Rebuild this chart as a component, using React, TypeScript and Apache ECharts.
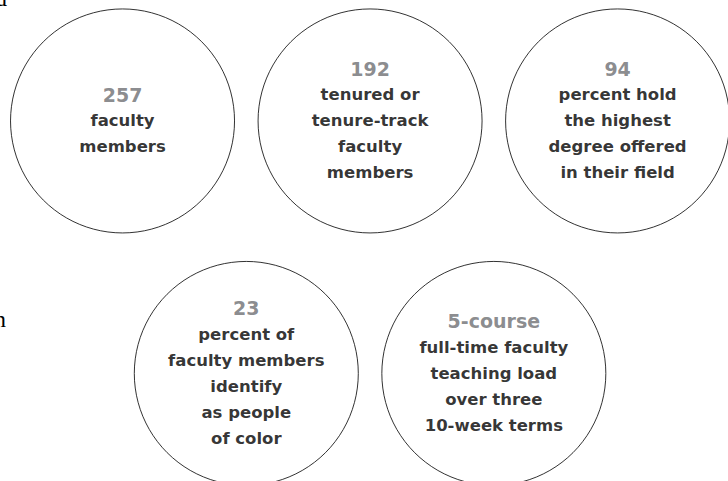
import React, { useEffect, useRef } from "react";
import * as echarts from "echarts";

const numbers = ["257", "192", "94", "23", "5-course"];
const descriptions = [
  ["faculty", "members"],
  ["tenured or", "tenure-track", "faculty", "members"],
  ["percent hold", "the highest", "degree offered", "in their field"],
  ["percent of", "faculty members", "identify", "as people", "of color"],
  ["full-time faculty", "teaching load", "over three", "10-week terms"],
];
const columns = [0, 1, 2, 0.5, 1.5];
const rows = [0, 0, 0, 1, 1];

export default function App() {
  const ref = useRef<HTMLDivElement>(null);
  useEffect(() => {
    if (!ref.current) return;
    const chart = echarts.init(ref.current, undefined, { renderer: "svg" });
    const data = numbers.map((n, i) => ({
      value: [columns[i], rows[i]],
      name: n,
      desc: descriptions[i],
    }));
    chart.setOption({
      animation: false,
      backgroundColor: "#ffffff",
      grid: { left: 0, right: 0, top: 0, bottom: 0 },
      xAxis: { type: "value", min: -0.495, max: 2.446, show: false },
      yAxis: { type: "value", min: -0.479, max: 1.426, inverse: true, show: false },
      graphic: [
        {
          type: "text",
          left: -5,
          top: -14,
          style: { text: "d", font: "24px 'Liberation Serif'", fill: "#000" },
        },
        {
          type: "text",
          left: -6,
          top: 307,
          style: { text: "n", font: "24px 'Liberation Serif'", fill: "#000" },
        },
      ],
      series: [
        {
          type: "scatter",
          symbol: "circle",
          symbolSize: 224,
          clip: false,
          itemStyle: { color: "#ffffff", borderColor: "#000000", borderWidth: 1 },
          data,
          label: {
            show: true,
            position: "inside",
            align: "center",
            verticalAlign: "middle",
            formatter: (p: any) => {
              const d = p.data;
              return [`{num|${d.name}}`, ...d.desc.map((t: string) => `{txt|${t}}`)].join("\n");
            },
            rich: {
              num: {
                fontFamily: "'DejaVu Sans'",
                fontWeight: "bold",
                fontSize: 19,
                color: "#6d6e71",
                lineHeight: 26,
                align: "center",
              },
              txt: {
                fontFamily: "'DejaVu Sans'",
                fontWeight: "bold",
                fontSize: 16.5,
                color: "#000000",
                lineHeight: 26,
                align: "center",
              },
            },
          },
          emphasis: { disabled: true },
        },
      ],
    });
    return () => chart.dispose();
  }, []);
  return (
    <div
      ref={ref}
      style={{ position: "fixed", left: 0, top: 0, width: 728, height: 481 }}
    />
  );
}
